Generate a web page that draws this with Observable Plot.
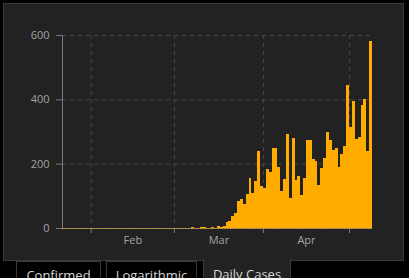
<!DOCTYPE html>
<html>
<head>
<meta charset="utf-8">
<script src="https://cdn.jsdelivr.net/npm/d3@7"></script>
<script src="https://cdn.jsdelivr.net/npm/@observablehq/plot@0.6"></script>
<style>
  html, body { margin: 0; padding: 0; background: #000; width: 409px; height: 278px; overflow: hidden; }
  #panel { position: absolute; left: 3px; top: 3px; width: 399px; height: 256px; border: 1px solid #3a3a3a; background: #222; }
  #chart { position: absolute; left: 0; top: 0; }
  .tab { position: absolute; top: 261px; height: 30px; box-sizing: border-box; border: 1px solid #3a3a3a; border-bottom: none;
         font-family: "Open Sans", sans-serif; font-size: 13px; line-height: 16px; padding-top: 5px; text-align: center; color: #d6d6d6; background: #000; }
  .tab.active { background: #222; top: 259px; padding-top: 7px; border-top: none; }
</style>
</head>
<body>
<div id="panel"></div>
<div id="chart"></div>
<div id="tabs"></div>
<script>
// ---- data ----
const startDate = "2020-01-22";
const dailyCases = [
  0,0,0,0,0,0,0,0,0,0,
  0,0,0,0,0,0,0,0,0,0,
  0,0,0,0,0,0,0,0,0,0,
  0,0,0,0,0,0,0,0,0,0,
  0,0,0,0,0,
  4,1,1,4,4,1,1,4,1,7,4,7,20,23,38,48,85,91,76,107,156,110,147,240,132,
  125,184,175,250,250,191,116,153,293,94,281,150,163,104,156,275,275,216,209,135,
  188,219,299,275,243,249,191,231,256,445,315,396,278,284,383,402,240,582
];
const monthTicks = ["2020-02-01","2020-03-01","2020-04-01","2020-05-01"];
const monthLabels = ["Feb","Mar","Apr"];
const yTicks = [0, 200, 400, 600];
const tabLabels = ["Confirmed", "Logarithmic", "Daily Cases"];
const activeTab = "Daily Cases";

// ---- build ----
const start = new Date(startDate);
const data = dailyCases.map((v, i) => ({date: d3.utcDay.offset(start, i), value: v}));
const end = d3.utcDay.offset(start, dailyCases.length);
const tickDates = monthTicks.map(d => new Date(d));
const labelData = monthLabels.map((m, i) => ({
  label: m,
  date: new Date((tickDates[i].getTime() + tickDates[i + 1].getTime()) / 2)
}));

const grid = "#474747";
const axisColor = "#7a7a7a";
const bar = "#ffab00";

const chart = Plot.plot({
  width: 409,
  height: 260,
  marginLeft: 62,
  marginRight: 37,
  marginTop: 35,
  marginBottom: 32,
  style: {background: "transparent", fontFamily: "'Open Sans', sans-serif", fontSize: "11px", color: "#a3a3a3", overflow: "visible"},
  x: {type: "utc", domain: [start, end], axis: null, label: null},
  y: {domain: [0, 600], axis: null, label: null},
  marks: [
    Plot.ruleY(yTicks.filter(d => d > 0), {stroke: grid, strokeDasharray: "4,4"}),
    Plot.ruleX(tickDates, {stroke: grid, strokeDasharray: "4,4"}),
    Plot.axisX({ticks: tickDates, tickFormat: () => "", tickSize: 5, stroke: axisColor, label: null}),
    Plot.axisY({ticks: yTicks, tickSize: 6, tickPadding: 7, stroke: axisColor, fill: "#a3a3a3", tickFormat: d3.format("d"), label: null}),
    Plot.ruleX([start], {stroke: axisColor}),
    Plot.ruleY([0], {stroke: axisColor}),
    Plot.ruleY([0], {stroke: bar, strokeOpacity: 0.55, strokeDasharray: "2,1"}),
    Plot.rectY(data, {x1: "date", x2: d => d3.utcDay.offset(d.date, 1), y: "value", fill: bar, inset: 0, shapeRendering: "crispEdges"}),
    Plot.text(labelData, {x: "date", text: "label", frameAnchor: "bottom", dy: 15, fill: "#a3a3a3", fontSize: 11})
  ]
});
document.getElementById("chart").appendChild(chart);

// tabs
const tabPos = [[16, 85], [106, 91], [203, 88]];
const tabs = document.getElementById("tabs");
tabLabels.forEach((t, i) => {
  const el = document.createElement("div");
  el.className = "tab" + (t === activeTab ? " active" : "");
  el.style.left = tabPos[i][0] + "px";
  el.style.width = tabPos[i][1] + "px";
  el.textContent = t;
  tabs.appendChild(el);
});
</script>
</body>
</html>
